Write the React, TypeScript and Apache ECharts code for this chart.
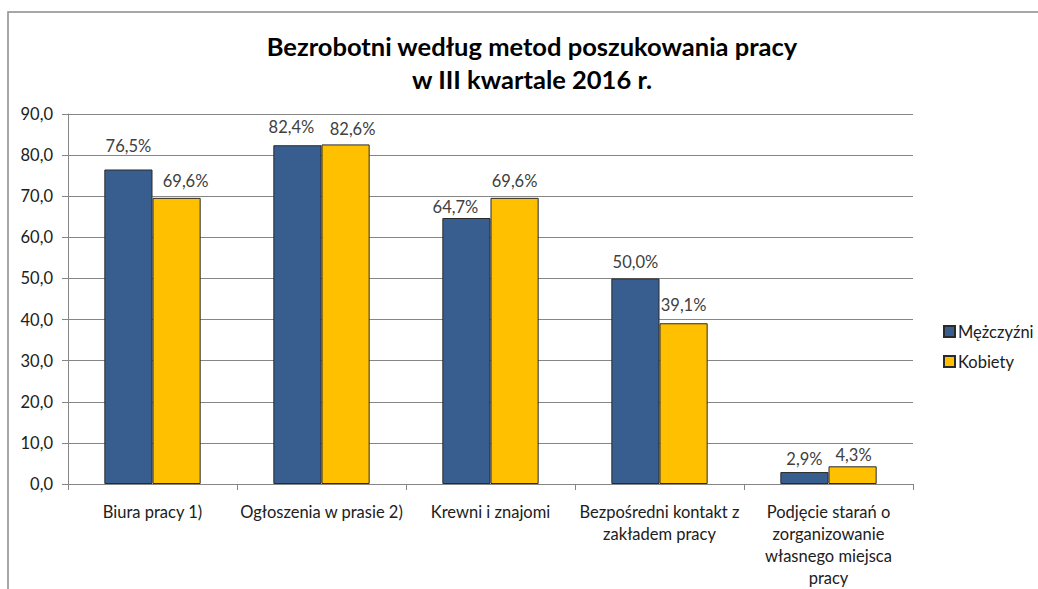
import React, { useEffect, useRef } from "react";
import * as echarts from "echarts";

const categories = [
  "Biura pracy 1)",
  "Ogłoszenia w prasie 2)",
  "Krewni i znajomi",
  "Bezpośredni kontakt z\nzakładem pracy",
  "Podjęcie starań o\nzorganizowanie\nwłasnego miejsca\npracy",
];
const men = [76.5, 82.4, 64.7, 50.0, 2.9];
const women = [69.6, 82.6, 69.6, 39.1, 4.3];
const seriesNames = ["Mężczyźni", "Kobiety"];
const titleLines = ["Bezrobotni według metod poszukowania pracy", "w III kwartale 2016 r."];

// manual nudges of data labels, as in the original (style only)
const menLabelNudge: [number, number][] = [[0, -5], [-6, 0], [-11, 7], [0, 2], [0, 5]];
const womenLabelNudge: [number, number][] = [[9, 2], [7, 3], [0, 2], [0, 0], [1, 7]];

const FONT = "Lato, 'Open Sans', sans-serif";
const fmt = (v: number) => v.toFixed(1).replace(".", ",");

export default function App() {
  const ref = useRef<HTMLDivElement>(null);
  useEffect(() => {
    document.body.style.margin = "0";
    const chart = echarts.init(ref.current!, null, { renderer: "svg" });
    const label = {
      show: true,
      position: "top" as const,
      distance: 10,
      fontSize: 16.5,
      fontFamily: FONT,
      color: "#404040",
      formatter: (p: any) => fmt(p.value) + "%",
    };
    const withNudge = (vals: number[], nudges: [number, number][]) =>
      vals.map((v, i) => ({ value: v, label: { offset: nudges[i] } }));
    chart.setOption({
      animation: false,
      backgroundColor: "#fff",
      textStyle: { fontFamily: FONT },
      title: {
        text: titleLines.join("\n"),
        left: 527,
        top: 24,
        textAlign: "center",
        textStyle: { fontSize: 25.5, fontWeight: "bold", color: "#000", lineHeight: 33, fontFamily: FONT },
      },
      graphic: [
        {
          type: "rect",
          shape: { x: 8, y: 12, width: 1060, height: 620 },
          style: { fill: "none", stroke: "#8a8a8a", lineWidth: 1.5 },
          silent: true,
        },
      ],
      legend: {
        orient: "vertical",
        left: 938,
        top: 318,
        itemWidth: 11,
        itemHeight: 11,
        itemGap: 13,
        icon: "rect",
        textStyle: { fontSize: 16.5, color: "#202020", fontFamily: FONT, padding: [0, 0, 0, -2] },
        data: seriesNames,
      },
      grid: { left: 68, right: 125, top: 114, bottom: 103, containLabel: false },
      xAxis: {
        type: "category",
        data: categories,
        axisLine: { lineStyle: { color: "#868686", width: 1 } },
        axisTick: { show: true, length: 6, lineStyle: { color: "#868686" } },
        axisLabel: { fontSize: 16.5, color: "#202020", lineHeight: 22, margin: 17, fontFamily: FONT, interval: 0 },
      },
      yAxis: {
        type: "value",
        min: 0,
        max: 90,
        interval: 10,
        axisLine: { show: true, lineStyle: { color: "#868686" } },
        axisTick: { show: true, length: 6, lineStyle: { color: "#868686" } },
        splitLine: { lineStyle: { color: "#868686", width: 1 } },
        axisLabel: { fontSize: 16.5, color: "#202020", margin: 15, fontFamily: FONT, formatter: (v: number) => fmt(v) },
      },
      series: [
        {
          name: seriesNames[0],
          type: "bar",
          data: withNudge(men, menLabelNudge),
          barGap: "0%",
          barCategoryGap: "43%",
          itemStyle: { color: "#375E8F", borderColor: "#2a2a2a", borderWidth: 1 },
          label,
        },
        {
          name: seriesNames[1],
          type: "bar",
          data: withNudge(women, womenLabelNudge),
          itemStyle: { color: "#FFC000", borderColor: "#2a2a2a", borderWidth: 1 },
          label,
        },
      ],
    });
    return () => chart.dispose();
  }, []);
  return <div ref={ref} style={{ width: 1038, height: 589 }} />;
}
